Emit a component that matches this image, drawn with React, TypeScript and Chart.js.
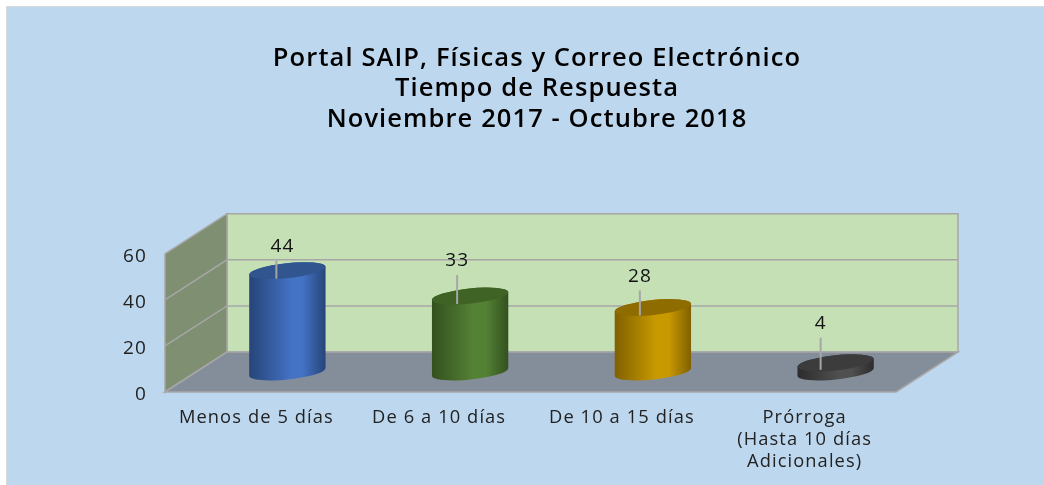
import React, { useEffect, useRef } from "react";
import { Chart, registerables } from "chart.js";

Chart.register(...registerables);

const categories: (string | string[])[] = [
  "Menos de 5 días",
  "De 6 a 10 días",
  "De 10 a 15 días",
  ["Prórroga", "(Hasta 10 días", "Adicionales)"],
];
const values = [44, 33, 28, 4];
const titleLines = [
  "Portal SAIP, Físicas y Correo Electrónico",
  "Tiempo de Respuesta",
  "Noviembre 2017 - Octubre 2018",
];
const bodyColors = ["#4472C4", "#548235", "#C99A00", "#505050"];
const edgeColors = ["#264478", "#33501F", "#7F6000", "#2C2C2C"];
const capColors = ["#30558F", "#3F6325", "#8F6C00", "#3C3C3C"];

// Callout placement relative to the top of each cylinder.
const calloutDx = [-11, -13, -13, -15];
const calloutLineTop = [-10, -21, -17, -25];
const calloutLineBottom = [8, 8, 8, 7];
const labelShiftX = [6, 0, 0, 0];

const DEPTH_X = 62;
const DEPTH_Y = 40;
const FONT = "'Open Sans', 'Noto Sans', sans-serif";

const scene = {
  id: "scene",
  beforeDraw(chart: any) {
    const { ctx, width, height } = chart;
    const { left, right, bottom } = chart.chartArea;
    const y = chart.scales.y;
    ctx.letterSpacing = "1.1px";
    ctx.save();
    ctx.fillStyle = "#FFFFFF";
    ctx.fillRect(0, 0, width, height);
    ctx.fillStyle = "#D9D9D9";
    ctx.fillRect(6, 6, width, height);
    ctx.fillStyle = "#BDD7EE";
    ctx.fillRect(7, 7, width, height);

    const top = y.getPixelForValue(60);
    const bx = left + DEPTH_X;
    const rx = right + DEPTH_X;
    const by = bottom - DEPTH_Y;
    const ty = top - DEPTH_Y;

    const poly = (pts: number[][], fill: string) => {
      ctx.beginPath();
      pts.forEach((p, i) => (i ? ctx.lineTo(p[0], p[1]) : ctx.moveTo(p[0], p[1])));
      ctx.closePath();
      ctx.fillStyle = fill;
      ctx.fill();
      ctx.lineWidth = 1.5;
      ctx.strokeStyle = "#A6A6A6";
      ctx.stroke();
    };
    poly([[bx, ty], [rx, ty], [rx, by], [bx, by]], "#C5E0B4");
    poly([[left, top], [bx, ty], [bx, by], [left, bottom]], "#7F8F72");
    poly([[left, bottom], [bx, by], [rx, by], [right, bottom]], "#848E9A");

    ctx.lineWidth = 1.5;
    ctx.strokeStyle = "#A6A6A6";
    y.ticks.forEach((t: any) => {
      if (t.value === 0 || t.value === 60) return;
      const p = y.getPixelForValue(t.value);
      ctx.beginPath();
      ctx.moveTo(left, p);
      ctx.lineTo(bx, p - DEPTH_Y);
      ctx.lineTo(rx, p - DEPTH_Y);
      ctx.stroke();
    });
    ctx.restore();
  },
  afterLayout(chart: any) {
    chart.titleBlock.left = 30;
    chart.titleBlock.right = 1044;
  },
  beforeDatasetDraw(chart: any, args: any) {
    const { ctx } = chart;
    const elements = args.meta.data;
    const tilt = (-6 * Math.PI) / 180;
    elements.forEach((bar: any, i: number) => {
      const cx = bar.x + DEPTH_X / 2;
      const r = bar.width / 2;
      const ry = 7.5;
      const baseY = bar.base - DEPTH_Y / 2;
      const topY = bar.y - DEPTH_Y / 2;
      const ex = r * Math.cos(tilt);
      const ey = r * Math.sin(tilt);
      ctx.save();
      const g = ctx.createLinearGradient(cx - r, 0, cx + r, 0);
      g.addColorStop(0, edgeColors[i]);
      g.addColorStop(0.55, bodyColors[i]);
      g.addColorStop(0.7, bodyColors[i]);
      g.addColorStop(1, edgeColors[i]);
      ctx.beginPath();
      ctx.moveTo(cx - ex, topY - ey);
      ctx.lineTo(cx - ex, baseY - ey);
      ctx.ellipse(cx, baseY, r, ry, tilt, Math.PI, 0, true);
      ctx.lineTo(cx + ex, topY + ey);
      ctx.ellipse(cx, topY, r, ry, tilt, 0, Math.PI, true);
      ctx.closePath();
      ctx.fillStyle = g;
      ctx.fill();
      ctx.beginPath();
      ctx.ellipse(cx, topY, r, ry, tilt, 0, Math.PI * 2);
      ctx.fillStyle = capColors[i];
      ctx.fill();

      const lx = cx + calloutDx[i];
      ctx.beginPath();
      ctx.moveTo(lx, topY + calloutLineTop[i]);
      ctx.lineTo(lx, topY + calloutLineBottom[i]);
      ctx.lineWidth = 2;
      ctx.strokeStyle = "#A6A6A6";
      ctx.stroke();

      ctx.fillStyle = "#111111";
      ctx.font = `19px ${FONT}`;
      ctx.textAlign = "center";
      ctx.textBaseline = "middle";
      ctx.fillText(String(values[i]), lx + labelShiftX[i], topY + calloutLineTop[i] - 14);
      ctx.restore();
    });
    return false;
  },
};

export default function App() {
  const ref = useRef<HTMLCanvasElement>(null);
  useEffect(() => {
    document.body.style.margin = "0";
    document.body.style.background = "#FFFFFF";
    const canvas = ref.current as HTMLCanvasElement;
    const chart = new Chart(canvas, {
      type: "bar",
      data: {
        labels: categories as any,
        datasets: [
          {
            label: "Solicitudes",
            data: values,
            backgroundColor: bodyColors,
            barPercentage: 0.42,
            categoryPercentage: 1,
          },
        ],
      },
      options: {
        animation: false,
        responsive: false,
        layout: { padding: { left: 0, right: 148, top: 0, bottom: 0 } },
        plugins: {
          legend: { display: false },
          tooltip: { enabled: false },
          title: {
            display: true,
            text: titleLines,
            color: "#000000",
            font: { family: FONT, size: 25.5, weight: "600", lineHeight: 1.2 },
            padding: { top: 43, bottom: 119 },
          },
        },
        scales: {
          x: {
            grid: { display: false, drawTicks: false },
            border: { display: false },
            ticks: {
              color: "#222222",
              font: { family: FONT, size: 18.3, lineHeight: 1.2 },
              maxRotation: 0,
              autoSkip: false,
              padding: 15,
            },
            afterFit: (s: any) => {
              s.height = 93;
            },
          },
          y: {
            min: 0,
            max: 60,
            grid: { display: false, drawTicks: false },
            border: { display: false },
            ticks: {
              stepSize: 20,
              color: "#222222",
              font: { family: FONT, size: 19 },
              padding: 18,
              labelOffset: 3,
            },
            afterFit: (s: any) => {
              s.width = 165;
            },
          },
        },
      },
      plugins: [scene],
    } as any);
    return () => chart.destroy();
  }, []);
  return <canvas ref={ref} width={1044} height={485} style={{ display: "block" }} />;
}
